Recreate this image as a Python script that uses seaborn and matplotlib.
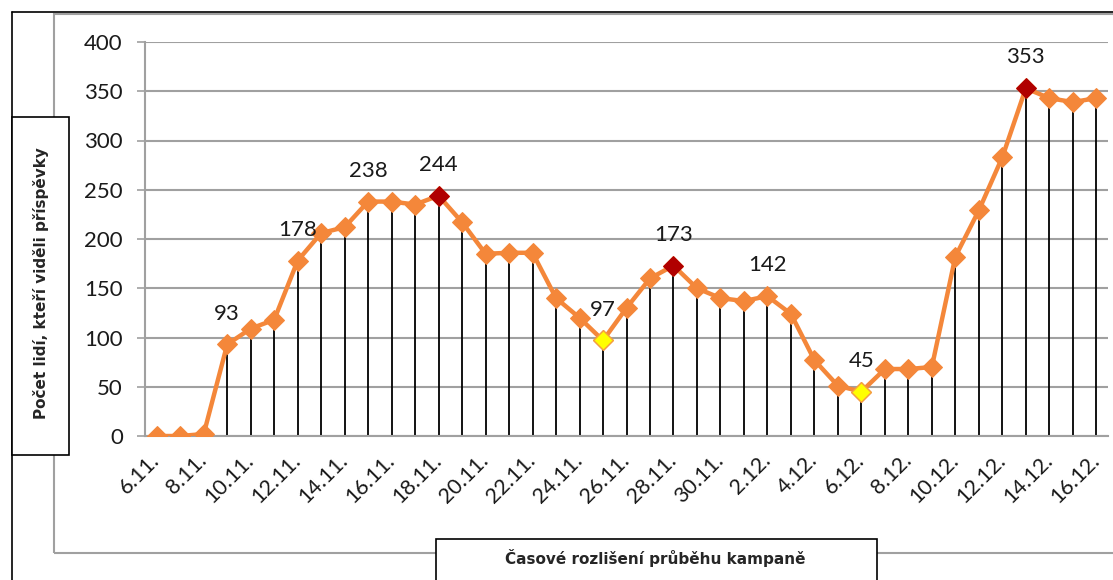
import matplotlib
matplotlib.use("Agg")
import matplotlib.pyplot as plt
import seaborn as sns
import numpy as np
import pandas as pd
from matplotlib.patches import Rectangle
from matplotlib.lines import Line2D

# ---------------- data ----------------
dates = ["6.11.", "7.11.", "8.11.", "9.11.", "10.11.", "11.11.", "12.11.", "13.11.", "14.11.",
         "15.11.", "16.11.", "17.11.", "18.11.", "19.11.", "20.11.", "21.11.", "22.11.",
         "23.11.", "24.11.", "25.11.", "26.11.", "27.11.", "28.11.", "29.11.", "30.11.",
         "1.12.", "2.12.", "3.12.", "4.12.", "5.12.", "6.12.", "7.12.", "8.12.", "9.12.",
         "10.12.", "11.12.", "12.12.", "13.12.", "14.12.", "15.12.", "16.12."]
values = [0, 0, 2, 93, 109, 118, 178, 206, 212, 238, 238, 235, 244, 217, 185, 186, 186,
          140, 120, 97, 130, 160, 173, 150, 140, 137, 142, 124, 77, 51, 45, 68, 68, 70,
          182, 229, 283, 353, 343, 339, 343]
label_idx = [3, 6, 9, 12, 19, 22, 26, 30, 37]
max_idx = [12, 22, 37]
min_idx = [19, 30]
y_ticks = [0, 50, 100, 150, 200, 250, 300, 350, 400]
y_title = "Počet lidí, kteří viděli příspěvky"
x_title = "Časové rozlišení průběhu kampaně"

df = pd.DataFrame({"i": np.arange(len(values)), "v": values, "d": dates})

# ---------------- style ----------------
sns.set_style("white")
plt.rcParams["font.family"] = ["Lato", "DejaVu Sans"]

W, H = 1113, 580
fig = plt.figure(figsize=(W / 100, H / 100), dpi=100)

def fx(x):
    return x / W

def fy(y):
    return 1 - y / H

# frames
fig.add_artist(Line2D([fx(12), fx(W + 5)], [fy(12), fy(12)], color="black", lw=1.2))
fig.add_artist(Line2D([fx(12), fx(12)], [fy(12), fy(H + 5)], color="black", lw=1.2))
fig.add_artist(Rectangle((fx(54), fy(553)), fx(W + 10) - fx(54), fy(14) - fy(553),
                         transform=fig.transFigure, fill=False, ec="#a0a0a0", lw=1.5))

left, right, top, bottom = 145, 1108, 42, 436
ax = fig.add_axes([fx(left), fy(bottom), fx(right) - fx(left), fy(top) - fy(bottom)])
ax.set_facecolor("none")

ORANGE = "#F4873A"
# drop lines
ax.vlines(df["i"], 0, df["v"], color="black", lw=1.3, zorder=2)
# line with markers
sns.lineplot(data=df, x="i", y="v", ax=ax, color=ORANGE, lw=3.2, marker="D",
             markersize=10.5, markeredgecolor=ORANGE, zorder=3)
# highlighted points
sns.scatterplot(x=df["i"].iloc[max_idx], y=df["v"].iloc[max_idx], ax=ax, marker="D",
                s=100, color="#B00000", edgecolor="#B00000", zorder=4)
sns.scatterplot(x=df["i"].iloc[min_idx], y=df["v"].iloc[min_idx], ax=ax, marker="D",
                s=100, color="#FFFF00", edgecolor="#F4A040", linewidth=1, zorder=4)

for i in label_idx:
    ax.annotate(str(values[i]), (i, values[i]), xytext=(0, 15), textcoords="offset points",
                ha="center", va="bottom", fontsize=16, color="#1a1a1a")

ax.set_xlim(-0.5, len(values) - 0.5)
ax.set_ylim(0, 400)
ax.set_yticks(y_ticks)
ax.set_yticklabels([str(t) for t in y_ticks], fontsize=16, color="#1a1a1a")
ax.yaxis.grid(True, color="#a0a0a0", lw=1.5)
ax.set_axisbelow(True)

ax.set_xticks(np.arange(0, len(values), 2))
ax.set_xticklabels(dates[::2], rotation=45, ha="right", va="center",
                   rotation_mode="anchor", fontsize=15.5, color="#1a1a1a")
ax.set_xticks(np.arange(-0.5, len(values), 1), minor=True)
ax.tick_params(axis="x", which="major", length=0, pad=15)
ax.tick_params(axis="x", which="minor", length=6, width=1.2, color="#a0a0a0")
ax.tick_params(axis="y", length=6, width=1.2, color="#a0a0a0", pad=10, left=True)

for s in ["top", "right"]:
    ax.spines[s].set_visible(False)
for s in ["left", "bottom"]:
    ax.spines[s].set_color("#a0a0a0")
    ax.spines[s].set_linewidth(1.5)
ax.set_xlabel("")
ax.set_ylabel("")

# axis title boxes
fig.add_artist(Rectangle((fx(12), fy(455)), fx(69) - fx(12), fy(117) - fy(455),
                         transform=fig.transFigure, fc="white", ec="black", lw=1.2, zorder=5))
fig.text(fx(41), fy(283), y_title, rotation=90, ha="center", va="center", fontsize=11,
         fontweight="bold", family=["Liberation Sans Narrow", "DejaVu Sans"], zorder=6)
fig.add_artist(Rectangle((fx(436), fy(H + 5)), fx(877) - fx(436), fy(539) - fy(H + 5),
                         transform=fig.transFigure, fc="white", ec="black", lw=1.2, zorder=5))
fig.text(fx(655), fy(558), x_title, ha="center", va="center", fontsize=11,
         fontweight="bold", family=["Liberation Sans Narrow", "DejaVu Sans"], zorder=6)

fig.savefig("out.png", dpi=100)
